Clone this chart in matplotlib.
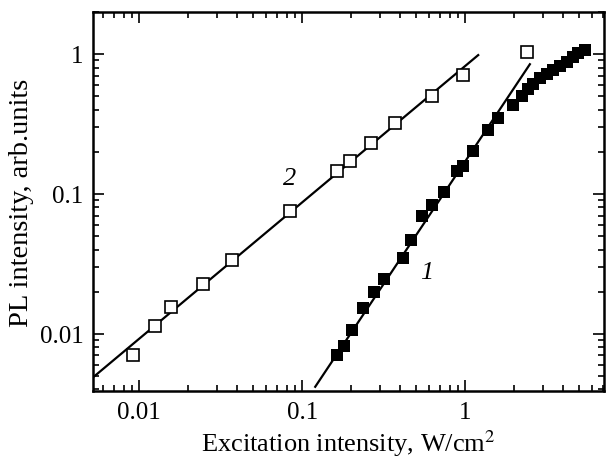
import numpy as np
import matplotlib
matplotlib.use("Agg")
from matplotlib import pyplot as plt
from matplotlib.ticker import LogLocator, NullFormatter

plt.rcParams['font.family'] = ['Liberation Serif', 'DejaVu Serif']
plt.rcParams['mathtext.fontset'] = 'stix'

# curve 2 (open squares)
x2 = [0.0092, 0.01253, 0.01565, 0.0247, 0.0369, 0.084, 0.1626, 0.196,
      0.263, 0.371, 0.627, 0.964, 2.38]
y2 = [0.0071, 0.01135, 0.0155, 0.0225, 0.0334, 0.0748, 0.145, 0.171,
      0.231, 0.321, 0.499, 0.708, 1.03]

# curve 1 (filled squares)
x1 = [0.164, 0.180, 0.203, 0.235, 0.275, 0.317, 0.417, 0.462, 0.540, 0.622,
      0.740, 0.894, 0.964, 1.12, 1.383, 1.594, 1.97, 2.22, 2.43, 2.61,
      2.87, 3.16, 3.47, 3.81, 4.19, 4.60, 4.94, 5.42]
y1 = [0.0070, 0.00817, 0.01057, 0.01534, 0.01986, 0.0247, 0.0347, 0.0464,
      0.0689, 0.0834, 0.1028, 0.1467, 0.1577, 0.2039, 0.288, 0.349, 0.432,
      0.504, 0.562, 0.61, 0.67, 0.72, 0.772, 0.825, 0.881, 0.947, 1.016, 1.07]

# power-law fits y = A * x**k and the x range they are drawn over
fit1_A, fit1_k, fit1_range = 0.171, 1.751, (0.12, 2.49)
fit2_A, fit2_k, fit2_range = 0.822, 0.975, (0.0053, 1.2)

fig = plt.figure(figsize=(6.12, 4.6), dpi=100)
ax = fig.add_axes([0.152, 0.148, 0.835, 0.824])

for A, k, (xa, xb) in [(fit1_A, fit1_k, fit1_range), (fit2_A, fit2_k, fit2_range)]:
    xf = np.array([xa, xb])
    ax.plot(xf, A * xf**k, color='black', lw=1.6, zorder=2)

ax.plot(x2, y2, 's', ms=8.3, mfc='white', mec='black', mew=1.2, zorder=3)
ax.plot(x1, y1, 's', ms=9.3, mfc='black', mec='black', mew=0, zorder=3)

ax.set_xscale('log')
ax.set_yscale('log')
ax.set_xlim(0.0052, 7.1)
ax.set_ylim(0.0039, 2.0)

ticks = [0.01, 0.1, 1]
labels = ['0.01', '0.1', '1']
ax.set_xticks(ticks)
ax.set_xticklabels(labels)
ax.set_yticks(ticks)
ax.set_yticklabels(labels)
ax.xaxis.set_minor_locator(LogLocator(base=10, subs=np.arange(2, 10)))
ax.yaxis.set_minor_locator(LogLocator(base=10, subs=np.arange(2, 10)))
ax.xaxis.set_minor_formatter(NullFormatter())
ax.yaxis.set_minor_formatter(NullFormatter())

ax.tick_params(which='both', direction='in', top=True, right=True,
               labelsize=18, width=1.2)
ax.tick_params(which='major', length=8, pad=7)
ax.tick_params(which='minor', length=4.5)
for s in ax.spines.values():
    s.set_linewidth(1.8)

ax.set_xlabel('Excitation intensity, W/cm$^2$', fontsize=19, labelpad=3)
ax.set_ylabel('PL intensity, arb.units', fontsize=20.5, labelpad=4)

ax.text(0.084, 0.13, '2', fontsize=19, style='italic', ha='center', va='center')
ax.text(0.58, 0.0275, '1', fontsize=19, style='italic', ha='center', va='center')

fig.savefig('out.png', dpi=100)
